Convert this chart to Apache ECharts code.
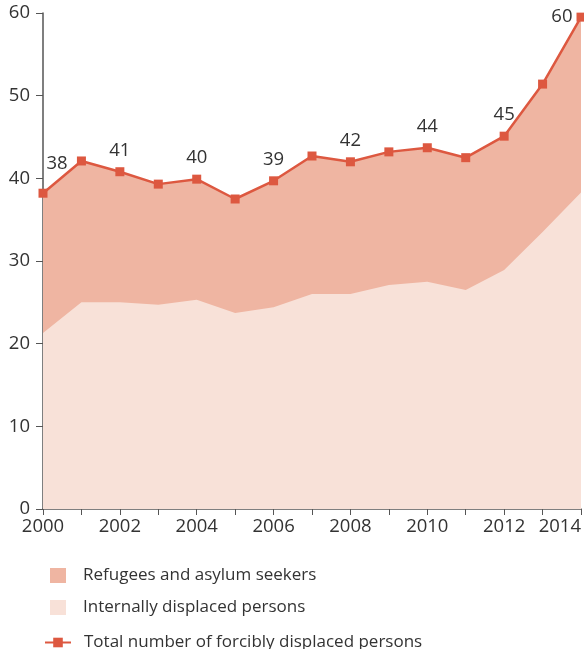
<!DOCTYPE html>
<html><head><meta charset="utf-8">
<script src="https://cdn.jsdelivr.net/npm/echarts@6/dist/echarts.min.js"></script>
<style>html,body{margin:0;padding:0;background:#fff}#c{width:584px;height:649px}</style>
</head><body><div id="c"></div>
<script>
const years = ['2000','2001','2002','2003','2004','2005','2006','2007','2008','2009','2010','2011','2012','2013','2014'];
const total = [38.2, 42.1, 40.8, 39.3, 39.9, 37.5, 39.7, 42.7, 42.0, 43.2, 43.7, 42.5, 45.1, 51.4, 59.5];
const idp = [21.3, 25.0, 25.0, 24.7, 25.3, 23.7, 24.4, 26.0, 26.0, 27.1, 27.5, 26.5, 28.9, 33.5, 38.3];
const totalLabels = ['38', '', '41', '', '40', '', '39', '', '42', '', '44', '', '45', '', '60'];
const yTicks = [0, 10, 20, 30, 40, 50, 60];

const FONT = '"Open Sans", sans-serif';
const C_LINE = '#dd5840', C_REF = '#efb5a2', C_IDP = '#f8e1d8', TXT = '#333';
const NUM_SIZE = 18.5;

const totalData = total.map((v, i) => {
  const d = { value: v };
  if (totalLabels[i]) {
    let lbl = { show: true, formatter: totalLabels[i], position: 'top', distance: 7 };
    if (i === 0) lbl = Object.assign(lbl, { offset: [14, -8] });
    if (i === total.length - 1) lbl = Object.assign(lbl, { position: 'left', distance: 4, offset: [0, 0] });
    d.label = lbl;
  }
  return d;
});

const chart = echarts.init(document.getElementById('c'), null, { renderer: 'canvas' });
chart.setOption({
  animation: false,
  textStyle: { fontFamily: FONT },
  grid: { left: 43, right: 3, top: 13, bottom: 140 },
  xAxis: {
    type: 'category', data: years, boundaryGap: false,
    axisLine: { lineStyle: { color: '#555', width: 1.5 } },
    axisTick: { show: true, length: 6, interval: 0, lineStyle: { color: '#555' } },
    axisLabel: { interval: 1, color: TXT, fontSize: NUM_SIZE, fontFamily: FONT, margin: 8, alignMaxLabel: 'right' },
    splitLine: { show: false }
  },
  yAxis: {
    type: 'value', min: yTicks[0], max: yTicks[yTicks.length - 1], interval: 10,
    axisLine: { show: true, lineStyle: { color: '#555', width: 1.5 } },
    axisTick: { show: true, length: 7, lineStyle: { color: '#555' } },
    axisLabel: { color: TXT, fontSize: NUM_SIZE, fontFamily: FONT, margin: 13 },
    splitLine: { show: false }
  },
  legend: [
    { data: [{ name: 'Refugees and asylum seekers', icon: 'rect' }], left: 50, top: 567, orient: 'vertical', padding: 0,
      itemWidth: 16, itemHeight: 15, textStyle: { color: TXT, fontSize: 17, fontFamily: FONT, padding: [0, 0, 0, 12] } },
    { data: [{ name: 'Internally displaced persons', icon: 'rect' }], left: 50, top: 599, orient: 'vertical', padding: 0,
      itemWidth: 16, itemHeight: 15, textStyle: { color: TXT, fontSize: 17, fontFamily: FONT, padding: [0, 0, 0, 12] } },
    { data: ['Total number of forcibly displaced persons'], left: 44, top: 634, orient: 'vertical', padding: 0,
      itemWidth: 26, itemHeight: 12, textStyle: { color: TXT, fontSize: 17, fontFamily: FONT, padding: [0, 0, 0, 8] } }
  ],
  series: [
    { name: 'Refugees and asylum seekers', type: 'line', data: total, symbol: 'none', z: 1,
      lineStyle: { width: 0 }, itemStyle: { color: C_REF }, areaStyle: { color: C_REF, opacity: 1 } },
    { name: 'Internally displaced persons', type: 'line', data: idp, symbol: 'none', z: 2,
      lineStyle: { width: 0 }, itemStyle: { color: C_IDP }, areaStyle: { color: C_IDP, opacity: 1 } },
    { name: 'Total number of forcibly displaced persons', type: 'line', data: totalData, z: 5,
      symbol: 'rect', symbolSize: 9, lineStyle: { color: C_LINE, width: 2.5 }, itemStyle: { color: C_LINE },
      label: { color: TXT, fontSize: NUM_SIZE, fontFamily: FONT } }
  ]
});
</script></body></html>
